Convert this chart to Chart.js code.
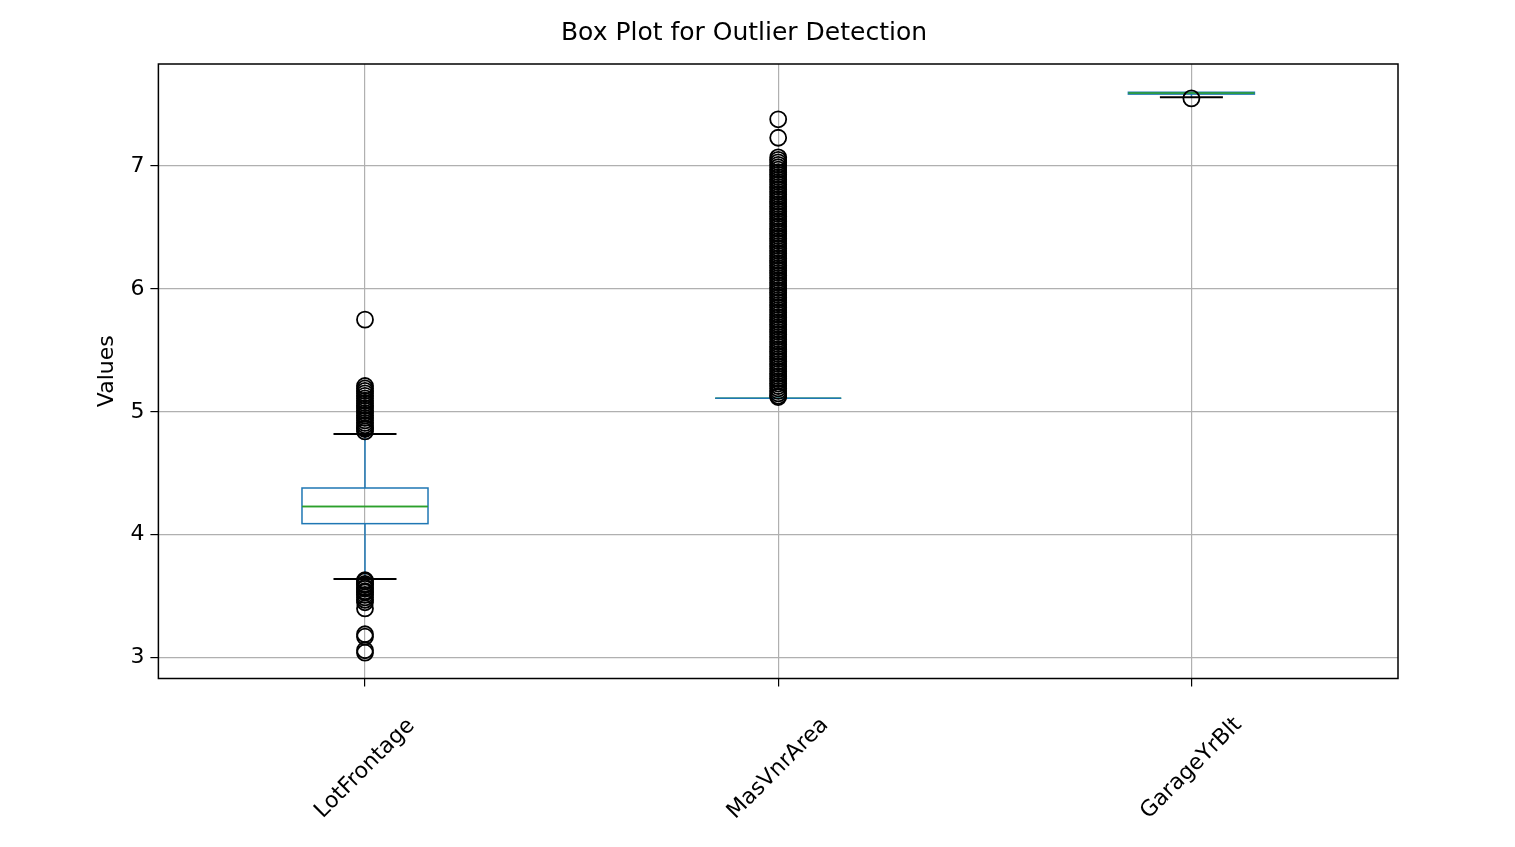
<!DOCTYPE html>
<html>
<head>
<meta charset="utf-8">
<script src="https://cdn.jsdelivr.net/npm/chart.js@4"></script>
<style>
  html, body { margin: 0; padding: 0; background: #fff; }
  #wrap { width: 1515px; height: 847px; }
</style>
</head>
<body>
<div id="wrap"><canvas id="chart"></canvas></div>
<script>
const categories = ['LotFrontage', 'MasVnrArea', 'GarageYrBlt'];

// box stats: [whiskerLow, q1, median, q3, whiskerHigh]
const lotFrontageStats = [3.64, 4.09, 4.23, 4.38, 4.82];
const masVnrAreaStats = [5.11, 5.11, 5.11, 5.11, 5.11];
const garageYrBltStats = [7.56, 7.585, 7.595, 7.60, 7.60];

const lotFrontageOutliers = [5.75, 5.21, 5.19, 5.17, 5.15, 5.13, 5.11, 5.09, 5.07, 5.05, 5.03,
  5.01, 4.99, 4.97, 4.95, 4.93, 4.91, 4.89, 4.87, 4.86, 4.84,
  3.63, 3.62, 3.60, 3.59, 3.57, 3.56, 3.54, 3.53, 3.51, 3.49, 3.47, 3.45, 3.40, 3.19, 3.17,
  3.06, 3.04];
const masVnrAreaOutliers = [7.38, 7.23, 7.07, 7.05, 7.03, 7.01, 6.99, 6.97, 6.95, 6.93, 6.91,
  6.89, 6.87, 6.85, 6.83, 6.81, 6.79, 6.77, 6.75, 6.73, 6.71, 6.69, 6.67, 6.65, 6.63, 6.61,
  6.59, 6.57, 6.55, 6.53, 6.51, 6.49, 6.47, 6.45, 6.43, 6.41, 6.39, 6.37, 6.35, 6.33, 6.31,
  6.29, 6.27, 6.25, 6.23, 6.21, 6.19, 6.17, 6.15, 6.13, 6.11, 6.09, 6.07, 6.05, 6.03, 6.01,
  5.99, 5.97, 5.95, 5.93, 5.91, 5.89, 5.87, 5.85, 5.83, 5.81, 5.79, 5.77, 5.75, 5.73, 5.71,
  5.69, 5.67, 5.65, 5.63, 5.61, 5.59, 5.57, 5.55, 5.53, 5.51, 5.49, 5.47, 5.45, 5.43, 5.41,
  5.39, 5.37, 5.35, 5.33, 5.31, 5.29, 5.27, 5.25, 5.23, 5.21, 5.19, 5.17, 5.15, 5.13, 5.12];
const garageYrBltOutliers = [7.55];

const allStats = [lotFrontageStats, masVnrAreaStats, garageYrBltStats];
const allOutliers = [lotFrontageOutliers, masVnrAreaOutliers, garageYrBltOutliers];

const outlierPoints = [];
allOutliers.forEach((vals, i) => vals.forEach(v => outlierPoints.push({ x: i, y: v })));

const boxPlugin = {
  id: 'boxes',
  beforeDatasetsDraw(chart) {
    const { ctx, scales: { x, y } } = chart;
    ctx.save();
    allStats.forEach((s, i) => {
      const cx = x.getPixelForValue(i);
      const half = x.getPixelForValue(i + 0.1525) - cx;
      const cap = half / 2;
      const [lo, q1, med, q3, hi] = s.map(v => y.getPixelForValue(v));
      ctx.lineWidth = 1.5;
      ctx.strokeStyle = '#1f77b4';
      ctx.beginPath();
      ctx.moveTo(cx, q1); ctx.lineTo(cx, lo);
      ctx.moveTo(cx, q3); ctx.lineTo(cx, hi);
      ctx.stroke();
      ctx.strokeStyle = '#2ca02c';
      ctx.beginPath();
      ctx.moveTo(cx - half, med); ctx.lineTo(cx + half, med);
      ctx.stroke();
      if (q1 - q3 > 1) {
        ctx.strokeStyle = '#1f77b4';
        ctx.strokeRect(cx - half, q3, half * 2, q1 - q3);
        ctx.strokeStyle = '#2ca02c';
        ctx.beginPath();
        ctx.moveTo(cx - half, med); ctx.lineTo(cx + half, med);
        ctx.stroke();
      } else {
        ctx.strokeStyle = '#1f77b4';
        ctx.beginPath();
        ctx.moveTo(cx - half, q1); ctx.lineTo(cx + half, q1);
        ctx.stroke();
      }
      if (hi !== lo) {
        ctx.strokeStyle = '#000';
        ctx.lineWidth = 2;
        ctx.beginPath();
        ctx.moveTo(cx - cap, lo); ctx.lineTo(cx + cap, lo);
        if (i === 0) { ctx.moveTo(cx - cap, hi); ctx.lineTo(cx + cap, hi); }
        ctx.stroke();
      }
    });
    ctx.restore();
  },
  afterDraw(chart) {
    const { ctx, chartArea: a, scales: { x } } = chart;
    ctx.save();
    ctx.strokeStyle = '#000';
    ctx.lineWidth = 1.5;
    ctx.strokeRect(a.left, a.top, a.right - a.left, a.bottom - a.top);
    // centred 45-degree category labels
    ctx.fillStyle = '#000';
    ctx.font = '22px "DejaVu Sans"';
    ctx.textAlign = 'center';
    ctx.textBaseline = 'middle';
    categories.forEach((c, i) => {
      ctx.save();
      ctx.translate(x.getPixelForValue(i), a.bottom + 90);
      ctx.rotate(-Math.PI / 4);
      ctx.fillText(c, 0, 0);
      ctx.restore();
    });
    ctx.restore();
  }
};

Chart.defaults.font.family = 'DejaVu Sans';
Chart.defaults.color = '#000';

new Chart(document.getElementById('chart'), {
  type: 'scatter',
  data: {
    datasets: [{
      data: outlierPoints,
      pointStyle: 'circle',
      pointRadius: 8,
      pointBorderWidth: 1.8,
      pointBorderColor: '#000',
      pointBackgroundColor: 'rgba(0,0,0,0)'
    }]
  },
  options: {
    responsive: true,
    maintainAspectRatio: false,
    animation: false,
    layout: { padding: { left: 90, right: 117, top: 6, bottom: 47 } },
    plugins: {
      legend: { display: false },
      tooltip: { enabled: false },
      title: {
        display: true,
        text: 'Box Plot for Outlier Detection',
        font: { size: 25, weight: 'normal' },
        padding: { top: 12, bottom: 16 }
      }
    },
    scales: {
      x: {
        type: 'linear',
        min: -0.5,
        max: 2.5,
        afterBuildTicks(axis) { axis.ticks = [0, 1, 2].map(v => ({ value: v })); },
        ticks: {
          callback: v => categories[v],
          color: 'rgba(0,0,0,0)',
          font: { size: 21 },
          maxRotation: 45,
          minRotation: 45
        },
        grid: { color: '#b0b0b0', lineWidth: 1.2, tickLength: 8, tickColor: '#000' },
        border: { display: false }
      },
      y: {
        min: 2.83,
        max: 7.83,
        afterBuildTicks(axis) { axis.ticks = [3, 4, 5, 6, 7].map(v => ({ value: v })); },
        ticks: { font: { size: 22 }, padding: 6 },
        title: { display: true, text: 'Values', font: { size: 22 } },
        grid: { color: '#b0b0b0', lineWidth: 1.2, tickLength: 8, tickColor: '#000' },
        border: { display: false }
      }
    }
  },
  plugins: [boxPlugin]
});
</script>
</body>
</html>
